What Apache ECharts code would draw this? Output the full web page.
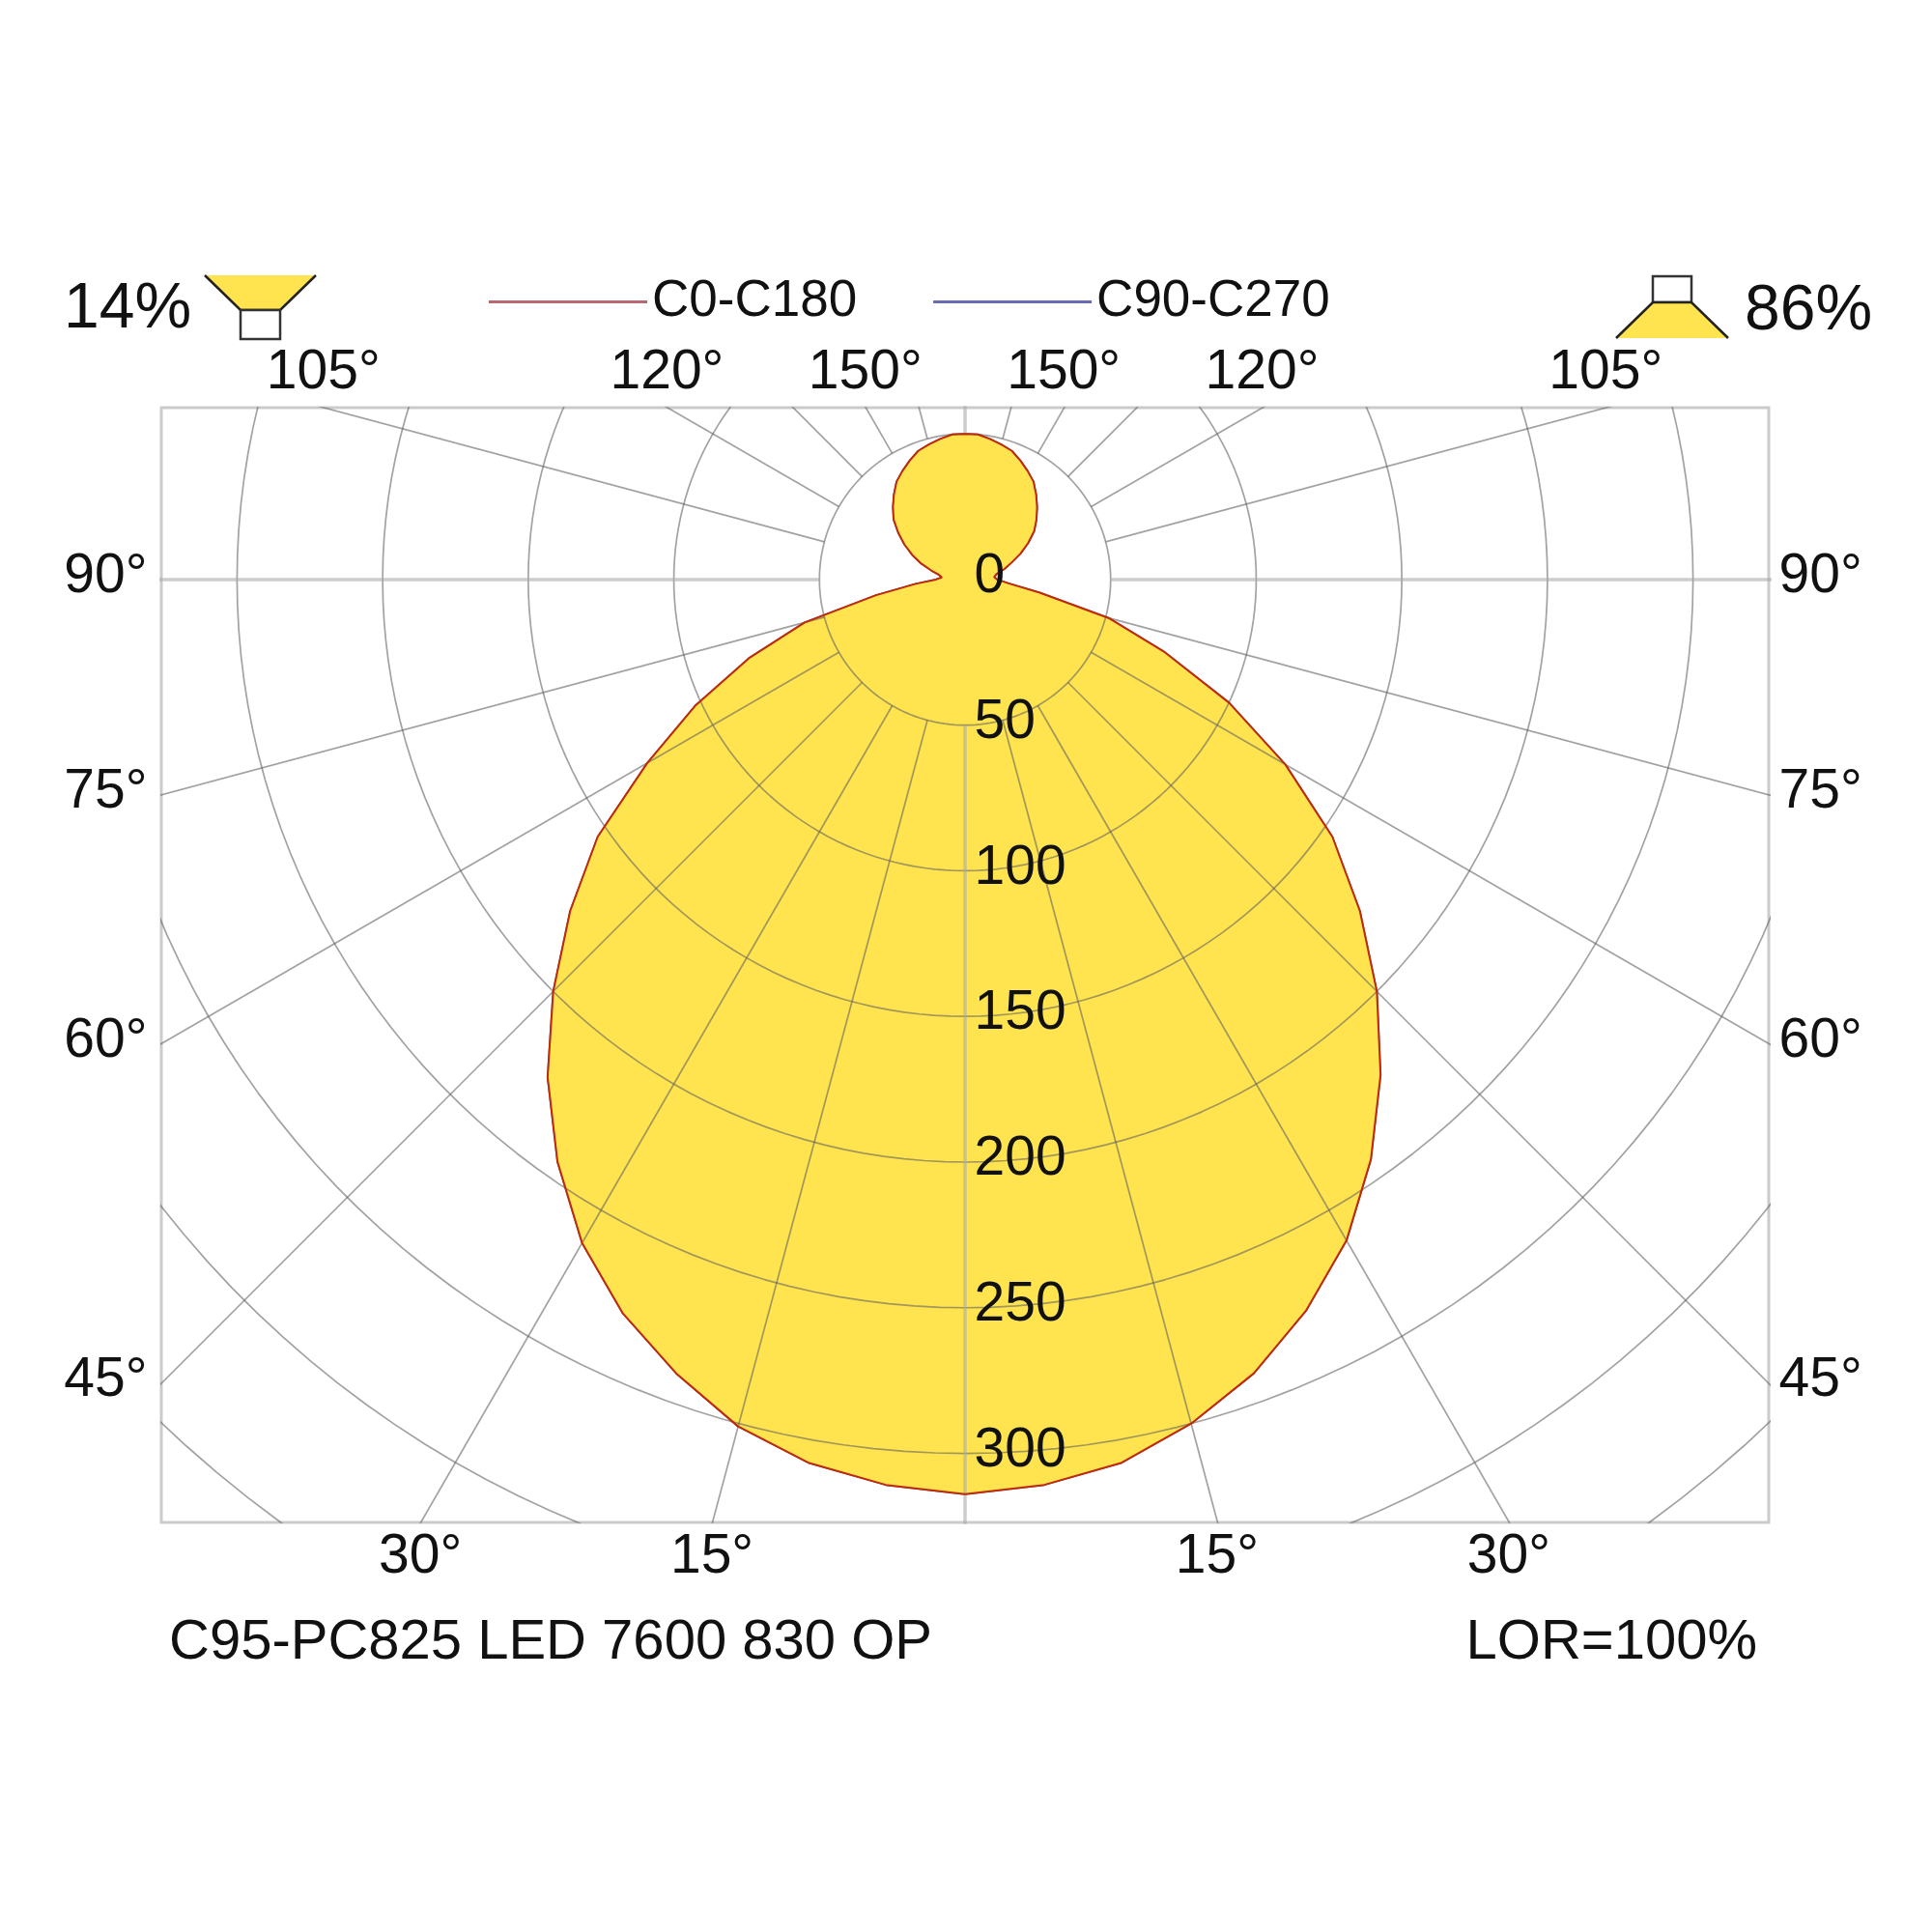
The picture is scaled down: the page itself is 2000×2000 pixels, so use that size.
<!DOCTYPE html>
<html>
<head>
<meta charset="utf-8">
<script src="https://cdn.jsdelivr.net/npm/echarts@6/dist/echarts.min.js"></script>
<style>
html, body { margin: 0; padding: 0; background: #fff; }
#chart { width: 2000px; height: 2000px; }
</style>
</head>
<body>
<div id="chart"></div>
<script>
// gamma angles (deg from nadir) and intensity readings, cd/klm
var gammaDeg = [0, 5, 10, 15, 20, 25, 30, 35, 40, 45, 50, 55, 60, 65, 70, 75, 80, 85, 90,
  95, 100, 105, 110, 115, 120, 125, 130, 135, 140, 145, 150, 155, 160, 165, 170, 175, 180];
var c0 = [314, 312, 308, 300, 290, 277, 262, 243, 222, 200, 177, 154, 127, 100, 73, 51, 26, 15, 11,
  10, 11, 14, 17, 21, 25, 29, 32, 35, 38, 41, 43, 45, 47, 48, 49, 50, 50];
var c180 = [314, 312, 308, 301, 290, 278, 263, 244, 223, 200, 177, 154, 126, 102, 79, 57, 31, 17, 10,
  8, 9, 12, 16, 20, 24, 28, 32, 35, 38, 41, 43, 45, 47, 48, 49, 50, 50];
// C90-C270 lies under C0-C180 on this luminaire
var c90 = c0;
var c270 = c180;

var ringValues = [50, 100, 150, 200, 250, 300, 350, 400, 450];
var ringLabels = [0, 50, 100, 150, 200, 250, 300];
var spokeStep = 15;
var topTicks = [105, 120, 150];
var sideTicks = [90, 75, 60, 45];
var bottomTicks = [30, 15];

var FONT = '"Liberation Sans", Arial, sans-serif';
var xMin = -276, xMax = 276, yMin = -323.7, yMax = 59;

function toXY(g, r, side) {
  var a = g * Math.PI / 180;
  return [side * r * Math.sin(a), -r * Math.cos(a)];
}

// outline of the lobe: right half C0, then left half C180 back down
function curvePoints(right, left) {
  var pts = [];
  for (var i = 0; i < gammaDeg.length; i++) pts.push(toXY(gammaDeg[i], right[i], 1));
  for (var j = gammaDeg.length - 1; j >= 0; j--) pts.push(toXY(gammaDeg[j], left[j], -1));
  return pts;
}
var lobe = curvePoints(c0, c180);
var lobe90 = curvePoints(c90, c270);

var series = [];

series.push({
  name: 'C90-C270',
  type: 'line',
  data: lobe90,
  showSymbol: false,
  silent: true,
  z: 1,
  lineStyle: { color: '#6a6ab4', width: 2 },
  itemStyle: { color: '#6a6ab4' }
});

series.push({
  name: 'fill',
  type: 'custom',
  data: lobe,
  silent: true,
  z: 2,
  renderItem: function (params, api) {
    if (params.dataIndex !== 0) return null;
    var pts = lobe.map(function (p) { return api.coord(p); });
    return { type: 'polygon', shape: { points: pts }, style: { fill: '#ffe450', stroke: null } };
  }
});

// rings
ringValues.forEach(function (r) {
  var pts = [];
  for (var t = 0; t <= 360; t += 2) pts.push(toXY(t, r, 1));
  series.push({
    type: 'line', data: pts, showSymbol: false, silent: true, z: 3,
    lineStyle: { color: 'rgba(95,95,95,0.58)', width: 1.7 }
  });
});

// spokes, from the first ring outwards
for (var s = 0; s < 360; s += spokeStep) {
  var main = (s % 90 === 0);
  series.push({
    type: 'line', data: [toXY(s, 50, 1), toXY(s, 600, 1)], showSymbol: false, silent: true, z: 3,
    lineStyle: main ? { color: 'rgba(170,170,170,0.6)', width: 3.5 } : { color: 'rgba(95,95,95,0.58)', width: 1.7 }
  });
}

series.push({
  name: 'C0-C180',
  type: 'line',
  data: lobe,
  showSymbol: false,
  silent: true,
  z: 4,
  lineStyle: { color: '#c02a08', width: 2 },
  itemStyle: { color: '#b86870' }
});

// angle labels where spokes meet the frame, and intensity labels
var labelPts = [];
function deg(v) { return v + '\u00b0'; }
topTicks.forEach(function (g) {
  var a = g * Math.PI / 180, r = yMax / -Math.cos(a);
  [-1, 1].forEach(function (side) {
    labelPts.push({ value: [side * r * Math.sin(a), yMax], text: deg(g), pos: [0, -35], align: 'center' });
  });
});
bottomTicks.forEach(function (g) {
  var a = g * Math.PI / 180, r = yMin / -Math.cos(a);
  [-1, 1].forEach(function (side) {
    labelPts.push({ value: [side * r * Math.sin(a), yMin], text: deg(g), pos: [0, 37], align: 'center' });
  });
});
sideTicks.forEach(function (g) {
  var a = g * Math.PI / 180, r = xMax / Math.sin(a);
  labelPts.push({ value: [xMin, -r * Math.cos(a)], text: deg(g), pos: [-14, -2], align: 'right' });
  labelPts.push({ value: [xMax, -r * Math.cos(a)], text: deg(g), pos: [11, -2], align: 'left' });
});
ringLabels.forEach(function (v) {
  labelPts.push({ value: [0, -v], text: String(v), pos: [10, -2], align: 'left' });
});

series.push({
  type: 'scatter',
  symbolSize: 1,
  clip: false,
  silent: true,
  z: 6,
  itemStyle: { color: 'rgba(0,0,0,0)', opacity: 1 },
  data: labelPts.map(function (p) {
    return {
      value: p.value,
      label: {
        show: true, formatter: p.text, position: p.pos, align: p.align, verticalAlign: 'middle',
        fontSize: 57, fontFamily: FONT, color: '#111', opacity: 1
      }
    };
  })
});

var chart = echarts.init(document.getElementById('chart'));
chart.setOption({
  animation: false,
  backgroundColor: '#fff',
  grid: { show: true, left: 167, right: 169, top: 422, bottom: 424, borderColor: '#cbcbcb', borderWidth: 3 },
  xAxis: { type: 'value', min: xMin, max: xMax, show: false },
  yAxis: { type: 'value', min: yMin, max: yMax, show: false },
  legend: {
    data: [{ name: 'C0-C180', itemStyle: { color: '#b86870' } }, { name: 'C90-C270', itemStyle: { color: '#6a6ab4' } }],
    left: 501, top: 281, icon: 'rect', itemWidth: 164, itemHeight: 3, itemGap: 79,
    selectedMode: false,
    textStyle: { fontSize: 53, fontFamily: FONT, color: '#111' }
  },
  graphic: [
    { type: 'text', x: 66, y: 321, style: { text: '14%', font: '66px ' + FONT, fill: '#111', align: 'left', verticalAlign: 'middle' } },
    { type: 'polygon', shape: { points: [[212, 285], [327, 285], [290, 321], [249, 321]] }, style: { fill: '#ffe450' } },
    { type: 'polyline', shape: { points: [[212, 285], [249, 321], [290, 321], [327, 285]] }, style: { stroke: '#222', lineWidth: 2.5, fill: null } },
    { type: 'rect', shape: { x: 249, y: 321, width: 41, height: 30 }, style: { fill: '#fff', stroke: '#333', lineWidth: 2.5 } },
    { type: 'rect', shape: { x: 1711, y: 286, width: 40, height: 27 }, style: { fill: '#fff', stroke: '#333', lineWidth: 2.5 } },
    { type: 'polygon', shape: { points: [[1711, 313], [1751, 313], [1789, 350], [1673, 350]] }, style: { fill: '#ffe450' } },
    { type: 'polyline', shape: { points: [[1673, 350], [1711, 313], [1751, 313], [1789, 350]] }, style: { stroke: '#222', lineWidth: 2.5, fill: null } },
    { type: 'text', x: 1806, y: 323, style: { text: '86%', font: '66px ' + FONT, fill: '#111', align: 'left', verticalAlign: 'middle' } },
    { type: 'text', x: 175, y: 1701, style: { text: 'C95-PC825 LED 7600 830 OP', font: '58px ' + FONT, fill: '#111', align: 'left', verticalAlign: 'middle' } },
    { type: 'text', x: 1819, y: 1701, style: { text: 'LOR=100%', font: '58px ' + FONT, fill: '#111', align: 'right', verticalAlign: 'middle' } }
  ],
  series: series
});
</script>
</body>
</html>
